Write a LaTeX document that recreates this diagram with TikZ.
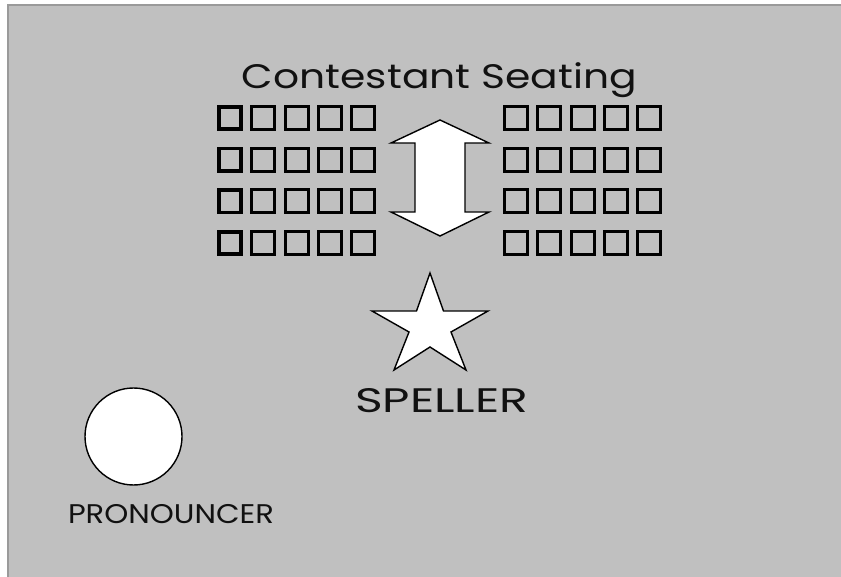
\documentclass[tikz,border=0pt]{standalone}
\usepackage{fontspec}
\usepackage{graphicx}
\setmainfont{Poppins}
\definecolor{bggray}{HTML}{C0C0C0}
\definecolor{edgegray}{HTML}{9A9A9A}
\definecolor{inkc}{HTML}{111111}
\newcommand{\fitwidth}[2]{\setbox0\hbox{#2}\pgfmathparse{#1/\the\wd0}\scalebox{\pgfmathresult}[1]{\box0}}
\tikzset{
  seat/.style={draw=black, line width=3pt},
  shapeout/.style={draw=black, fill=white, line width=1.4pt, line join=miter},
  label/.style={anchor=base, inner sep=0pt, text=inkc}
}
\begin{document}
\begin{tikzpicture}[x=1pt,y=-1pt]
\useasboundingbox (0,0) rectangle (841,577);
\fill[bggray] (7,4) rectangle (841,577);
\draw[edgegray, line width=2pt] (8,577) -- (8,5) -- (841,5);
% title
\node[label, font=\fontsize{34}{34}\selectfont] (title) at (439.5,89) {\fitwidth{395}{Contestant Seating}};
% seats
\foreach \r in {0,1,2,3}{
  \foreach \c in {0,...,4}{
    \pgfmathsetmacro{\yy}{105+41.7*\r}
    \pgfmathsetmacro{\xl}{217+33.3*\c}
    \pgfmathsetmacro{\xr}{503+33.3*\c}
    \draw[seat] (\xl+1.5,\yy+1.5) rectangle ++(23,23);
    \draw[seat] (\xr+1.5,\yy+1.5) rectangle ++(23,23);
  }
}
\foreach \r in {0,1,2,3}{
  \pgfmathsetmacro{\yy}{105+41.7*\r}
  \draw[seat, line width=3.6pt] (218.8,\yy+1.8) rectangle ++(22.4,22.4);
}
% double arrow
\draw[shapeout] (440,120) -- (489,143) -- (465,143) -- (465,212) -- (489,212)
  -- (440,236) -- (391,212) -- (415,212) -- (415,143) -- (391,143) -- cycle;
% star
\draw[shapeout] (430,273) -- (443.5,311) -- (488,311) -- (451,332) -- (466,370)
  -- (430,347) -- (394,370) -- (409,332) -- (372,311) -- (416.5,311) -- cycle;
\node[label, font=\fontsize{34}{34}\selectfont] (speller) at (441.5,412) {\fitwidth{173}{SPELLER}};
% pronouncer
\draw[shapeout] (133.5,436.5) circle (48.5);
\node[label, font=\fontsize{27}{27}\selectfont] (pron) at (171,523) {\fitwidth{206}{PRONOUNCER}};
\end{tikzpicture}
\end{document}
